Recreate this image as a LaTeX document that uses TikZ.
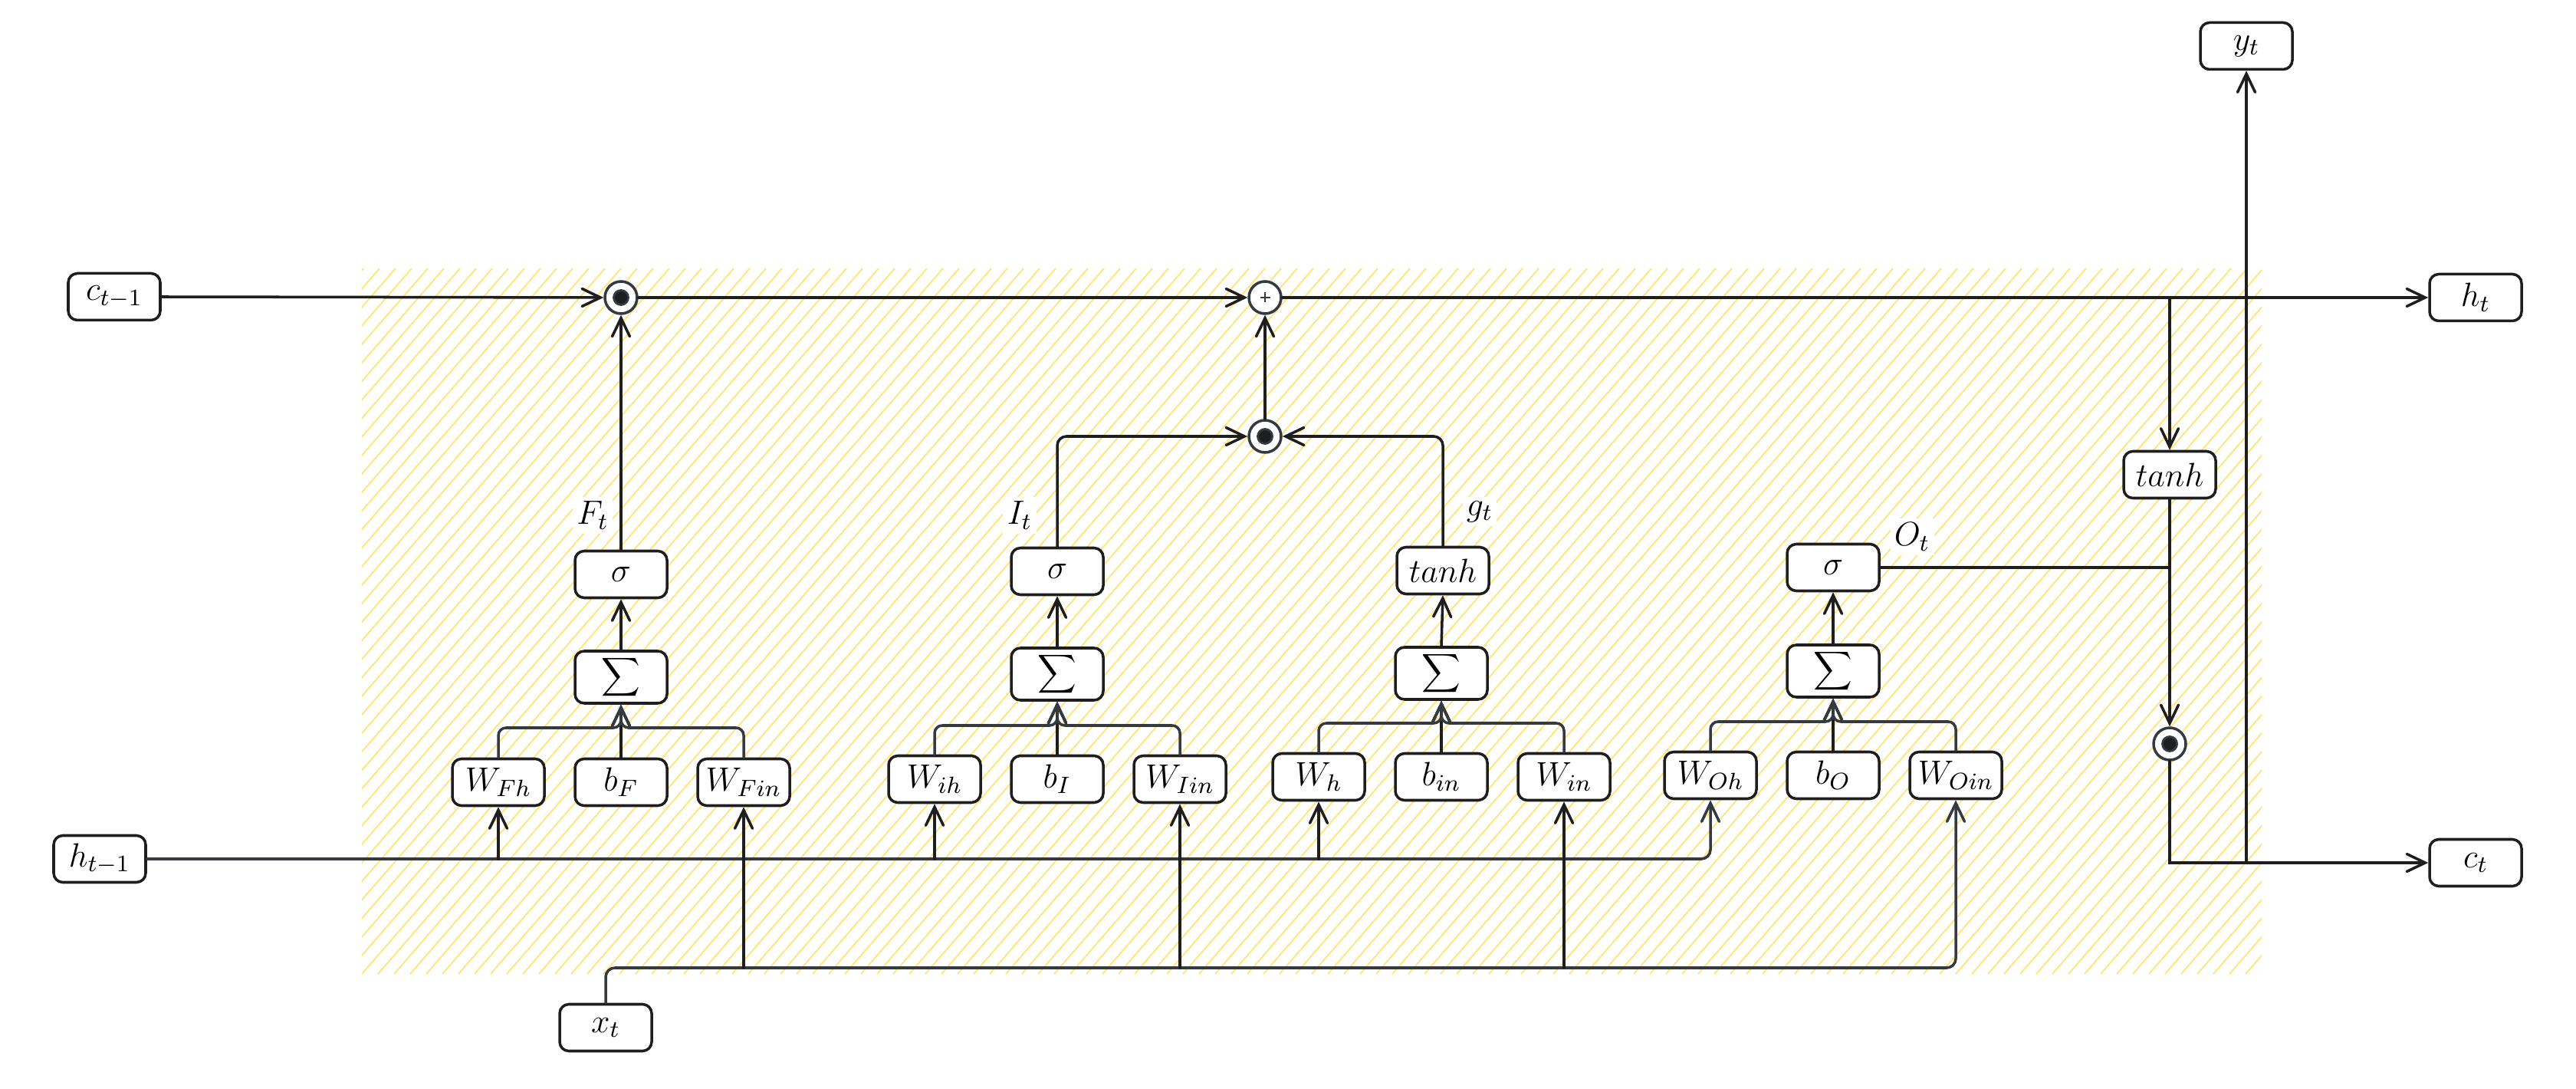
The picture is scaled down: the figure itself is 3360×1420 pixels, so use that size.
\documentclass[tikz,border=0pt]{standalone}
\usepackage{fix-cm}
\usetikzlibrary{arrows.meta,calc}
\definecolor{ln}{HTML}{1E1E1E}
\definecolor{dk}{HTML}{343A40}
\definecolor{hy}{HTML}{FFE787}
\begin{document}
\begin{tikzpicture}[x=0.1mm,y=-0.1mm,
  font=\fontsize{12.5}{14}\selectfont,
  box/.style={draw=ln, line width=1pt, rounded corners=1.2mm, fill=white,
    minimum width=12mm, minimum height=6.1mm, inner sep=1pt},
  sumbox/.style={box, minimum height=6.8mm},
  mult/.style={circle, draw=dk, line width=1pt, fill=white, minimum size=4.2mm, inner sep=0pt,
    path picture={\draw[draw=dk, fill=ln, line width=0.8pt] (path picture bounding box.center) circle (0.95mm);}},
  plusc/.style={circle, draw=dk, line width=1pt, fill=white, minimum size=4.2mm, inner sep=0pt,
    path picture={\draw[draw=dk, line width=0.35pt] ($(path picture bounding box.center)+(-6.5,0)$) -- ++(13,0)
      ($(path picture bounding box.center)+(0,-6.5)$) -- ++(0,13);}},
  lbl/.style={fill=white, inner sep=1.5pt},
  conn/.style={draw=ln, line width=1pt, line cap=round},
  bus/.style={draw=dk, line width=1pt, line cap=round},
  arr/.style={conn, -{Straight Barb[length=2.4mm,width=2.3mm,line cap=round]}},
  busarr/.style={bus, -{Straight Barb[length=2.4mm,width=2.3mm,line cap=round]}},
  hatchl/.style={draw=hy, line width=0.6pt}]

\useasboundingbox (0,0) rectangle (3360,1420);

% hatched background
\begin{scope}
  \clip (472,350) rectangle (2950,1270);
  \foreach \i in {-40,...,119}
    \draw[hatchl] ({472+\i*21},1270) -- ++(800,-920);
\end{scope}

% outer nodes
\node[box] (cprev) at (149,387) {$c_{t-1}$};
\node[box] (hprev) at (130,1120) {$h_{t-1}$};
\node[box] (xt) at (790,1340) {$x_t$};
\node[box] (yt) at (2930,60) {$y_t$};
\node[box] (ht) at (3229,388) {$h_t$};
\node[box] (ct) at (3229,1125) {$c_t$};

% pointwise ops
\node[mult] (m1) at (810,388) {};
\node[plusc] (add) at (1650,388) {};
\node[mult] (m2) at (1650,569) {};
\node[box] (tc) at (2830,619) {$tanh$};
\node[mult] (m3) at (2830,970) {};

% forget gate
\node[box] (sF) at (810,749) {$\sigma$};
\node[sumbox] (SF) at (810,883) {$\displaystyle\sum$};
\node[box] (WFh) at (650,1020) {$W_{Fh}$};
\node[box] (bF) at (810,1020) {$b_F$};
\node[box] (WFin) at (970,1020) {$W_{Fin}$};
\node[lbl] (lF) at (773,672) {$F_t$};

% input gate
\node[box] (sI) at (1379,745) {$\sigma$};
\node[sumbox] (SI) at (1379,879) {$\displaystyle\sum$};
\node[box] (Wih) at (1219,1016) {$W_{ih}$};
\node[box] (bI) at (1379,1016) {$b_I$};
\node[box] (WIin) at (1539,1016) {$W_{Iin}$};
\node[lbl] (lI) at (1330,672) {$I_t$};

% candidate
\node[box] (tg) at (1882,744) {$tanh$};
\node[sumbox] (SG) at (1880,878) {$\displaystyle\sum$};
\node[box] (Wh) at (1720,1013) {$W_h$};
\node[box] (bin) at (1880,1013) {$b_{in}$};
\node[box] (Win) at (2040,1013) {$W_{in}$};
\node[lbl] (lG) at (1930,667) {$g_t$};

% output gate
\node[box] (sO) at (2391,740) {$\sigma$};
\node[sumbox] (SO) at (2391,875) {$\displaystyle\sum$};
\node[box] (WOh) at (2231,1011) {$W_{Oh}$};
\node[box] (bO) at (2391,1011) {$b_O$};
\node[box] (WOin) at (2551,1011) {$W_{Oin}$};
\node[lbl] (lO) at (2494,700) {$O_t$};

% cell state line
\draw[arr] (cprev.east) -- (m1.west);
\draw[arr] (m1.east) -- (add.west);
\draw[arr] (add.east) -- (ht.west);
\draw[arr] (m2.north) -- (add.south);
\draw[arr] (sF.north) -- (m1.south);
\draw[arr, rounded corners=1.2mm] (sI.north) |- (m2.west);
\draw[arr, rounded corners=1.2mm] (tg.north) |- (m2.east);

% right part
\draw[arr] (tc.north |- ht.west) -- (tc.north);
\draw[arr] (tc.south) -- (m3.north);
\draw[conn] (sO.east) -- (sO.east -| m3.north);
\draw[arr] (m3.south) |- (ct.west);
\draw[arr] (yt.south |- ct.west) -- (yt.south);

% gate internals
\foreach \s/\S/\Wa/\b/\Wb/\y in {sF/SF/WFh/bF/WFin/949, sI/SI/Wih/bI/WIin/946, tg/SG/Wh/bin/Win/943, sO/SO/WOh/bO/WOin/941}{
  \draw[arr] (\S.north) -- (\s.south);
  \draw[arr] (\b.north) -- (\S.south);
  \draw[busarr, rounded corners=1mm] (\Wa.north) |- (\S.south |- 0,\y) -- (\S.south);
  \draw[busarr, rounded corners=1mm] (\Wb.north) |- (\S.south |- 0,\y) -- (\S.south);
}

% h_{t-1} bus
\draw[busarr, rounded corners=1.2mm] (hprev.east) -| (WOh.south);
\foreach \w in {WFh, Wih, Wh}
  \draw[arr] (\w.south |- hprev.east) -- (\w.south);

% x_t bus
\coordinate (xb) at (790,1262);
\draw[busarr, rounded corners=1.2mm] (xt.north) -- (xb) -| (WOin.south);
\foreach \w in {WFin, WIin, Win}
  \draw[arr] (\w.south |- xb) -- (\w.south);

\end{tikzpicture}
\end{document}
